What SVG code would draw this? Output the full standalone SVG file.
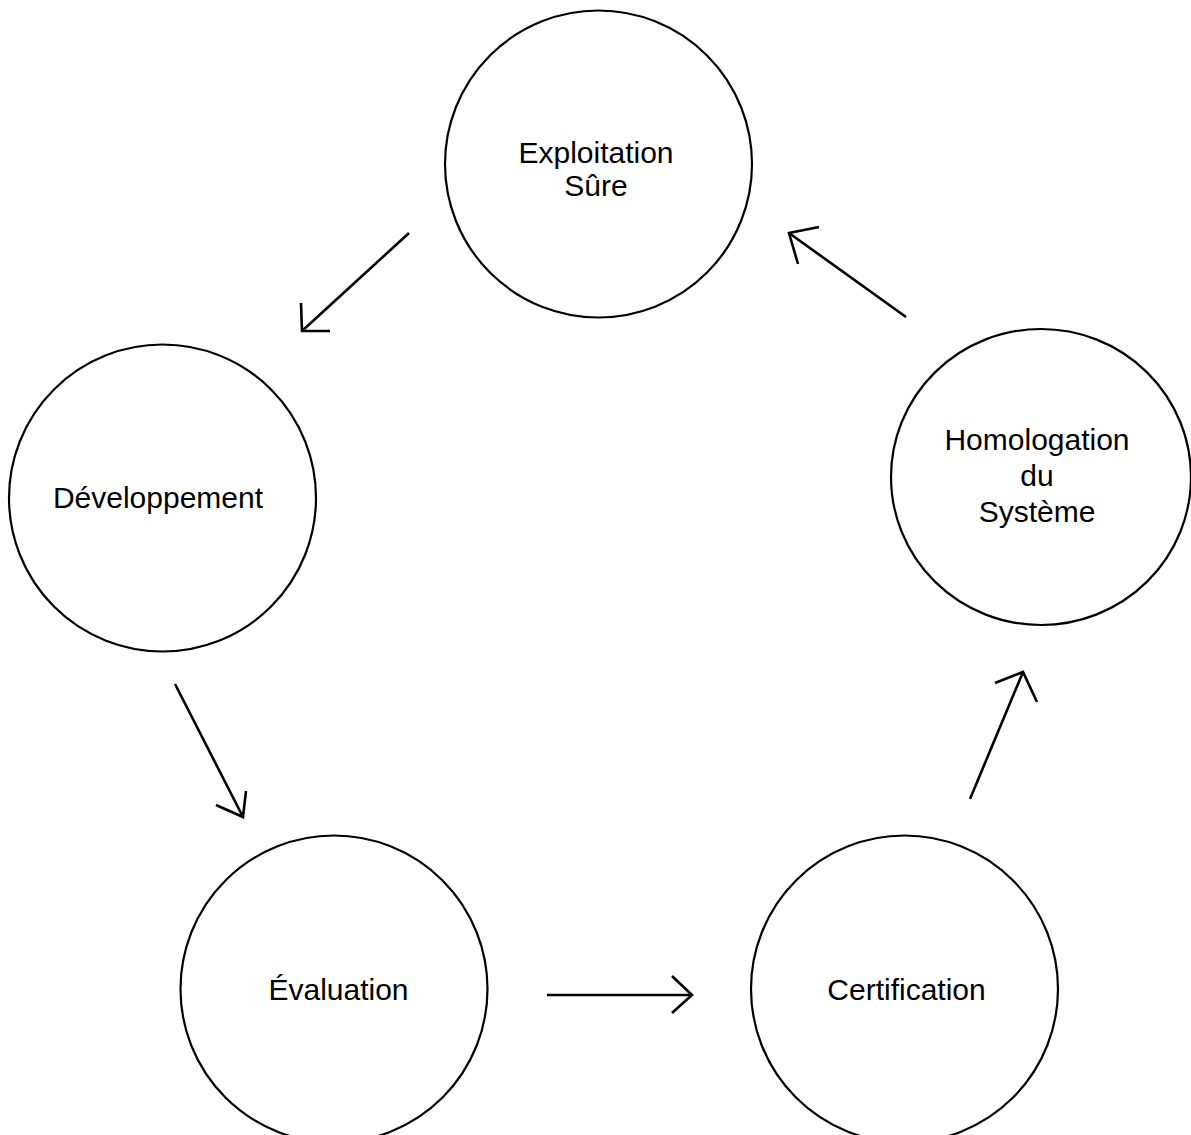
<svg xmlns="http://www.w3.org/2000/svg" width="1191" height="1135" viewBox="0 0 1191 1135">
<style>
.node{fill:#fff;stroke:#000;stroke-width:2.2}
.lbl{font-family:"Liberation Sans",Arial,sans-serif;font-size:30px;fill:#000;text-anchor:middle}
.edge{fill:none;stroke:#000;stroke-width:2.6;stroke-linecap:butt;stroke-linejoin:miter}
</style>
<rect width="1191" height="1135" fill="#fff"/>
<g id="exploitation">
<circle class="node" cx="598.5" cy="164" r="153.5"/>
<text class="lbl" x="596" y="163">Exploitation</text>
<text class="lbl" x="596" y="196">Sûre</text>
</g>
<g id="developpement">
<circle class="node" cx="162.5" cy="498" r="153.5"/>
<text class="lbl" x="158" y="508">Développement</text>
</g>
<g id="homologation">
<ellipse class="node" cx="1041" cy="477" rx="150" ry="148"/>
<text class="lbl" x="1037" y="450">Homologation</text>
<text class="lbl" x="1037" y="486">du</text>
<text class="lbl" x="1037" y="522">Système</text>
</g>
<g id="evaluation">
<circle class="node" cx="334" cy="989" r="153.5"/>
<text class="lbl" x="338.5" y="1000">Évaluation</text>
</g>
<g id="certification">
<circle class="node" cx="904.5" cy="989" r="153.5"/>
<text class="lbl" x="906.5" y="1000">Certification</text>
</g>
<g id="connectors">
<path class="edge" d="M409,233 L302,331"/>
<path class="edge" d="M301,303 L302,331 L330,331"/>
<path class="edge" d="M906,317 L789,233"/>
<path class="edge" d="M819,227 L789,233 L798,264"/>
<path class="edge" d="M175,684 L243,817"/>
<path class="edge" d="M216,805 L243,817 L246,791"/>
<path class="edge" d="M547,995 L692,995"/>
<path class="edge" d="M672,976 L692,995 L672,1013"/>
<path class="edge" d="M970,799 L1023,672"/>
<path class="edge" d="M995,683 L1023,672 L1037,702"/>
</g>
</svg>
